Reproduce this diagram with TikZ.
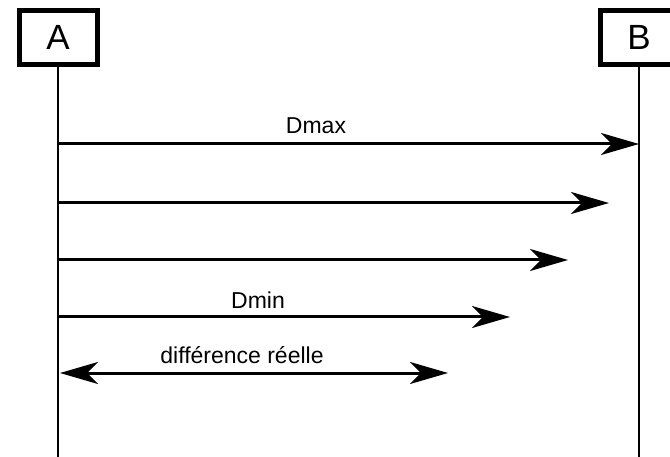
\documentclass[tikz,border=0pt]{standalone}
\usepackage{fontspec}
\setmainfont{Liberation Sans}
\usetikzlibrary{arrows.meta, positioning, calc}

\begin{document}
\begin{tikzpicture}[x=1pt, y=1pt,
    actor/.style={draw, line width=5pt, minimum width=78pt, minimum height=54pt,
        inner sep=0pt, font=\fontsize{35}{40}\selectfont},
    life/.style={line width=2pt},
    msg/.style={line width=3pt, -{Stealth[length=38pt, width=22pt, inset=11pt]}},
    both/.style={line width=3pt, {Stealth[length=38pt, width=22pt, inset=11pt]}-{Stealth[length=38pt, width=22pt, inset=11pt]}},
    lbl/.style={font=\fontsize{23}{26}\selectfont}]
    \useasboundingbox (0,0) rectangle (670,-457);
    \clip (0,0) rectangle (670,-457);

    \node[actor] (A) at (58,-37.5) {A};
    \node[actor] (B) at (639,-37.5) {B};
    \coordinate (Abot) at (58,-457);
    \coordinate (Bbot) at (639,-457);

    % message points
    \coordinate (a1) at (58,-144);   \coordinate (b1) at (639,-144);
    \coordinate (a2) at (58,-203);   \coordinate (b2) at (609,-203);
    \coordinate (a3) at (58,-260);   \coordinate (b3) at (568,-260);
    \coordinate (a4) at (58,-317);   \coordinate (b4) at (510,-317);
    \coordinate (a5) at (60,-373);   \coordinate (b5) at (448,-373);

    \node[lbl] (dmax) at (316,-126) {Dmax};
    \node[lbl] (dmin) at (258,-300) {Dmin};
    \node[lbl] (diff) at (242,-355) {différence réelle};

    \draw[life] (A.south) -- (Abot);
    \draw[life] (B.south) -- (Bbot);

    \draw[msg] (a1) -- (b1);
    \draw[msg] (a2) -- (b2);
    \draw[msg] (a3) -- (b3);
    \draw[msg] (a4) -- (b4);
    \draw[both] (a5) -- (b5);
\end{tikzpicture}
\end{document}
